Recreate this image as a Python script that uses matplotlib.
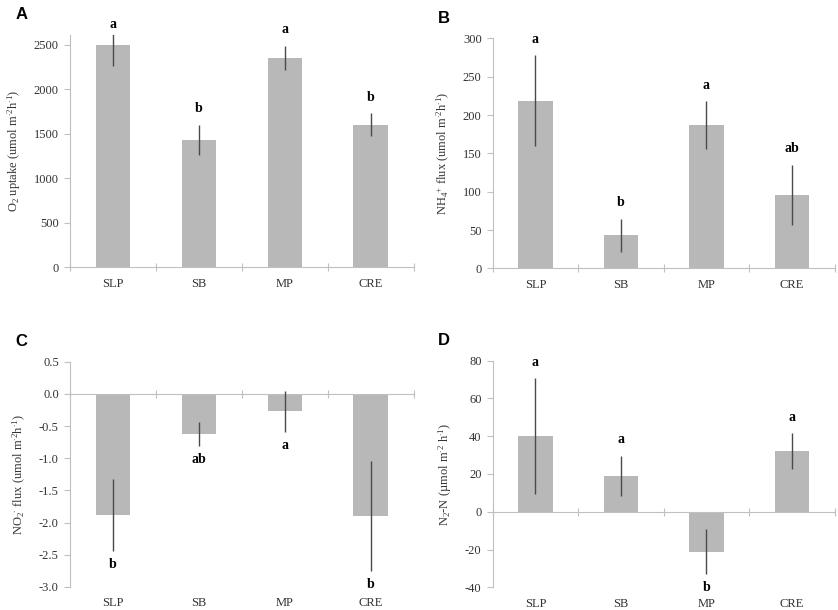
import matplotlib
matplotlib.use("Agg")
import matplotlib.pyplot as plt
import matplotlib.transforms as mtransforms

plt.rcParams['font.family'] = ['Liberation Serif', 'DejaVu Serif']
plt.rcParams['mathtext.fontset'] = 'custom'
plt.rcParams['mathtext.rm'] = 'Liberation Serif'
plt.rcParams['mathtext.it'] = 'Liberation Serif:italic'
plt.rcParams['mathtext.bf'] = 'Liberation Serif:bold'

sites = ["SLP", "SB", "MP", "CRE"]

# A: O2 uptake
o2_mean = [2490, 1425, 2352, 1602]
o2_err = [230, 170, 137, 124]
o2_letters = ["a", "b", "a", "b"]

# B: NH4+ flux
nh4_mean = [219, 43, 187, 96]
nh4_err = [59, 22, 31, 39]
nh4_letters = ["a", "b", "a", "ab"]

# C: NO2- flux
no2_mean = [-1.89, -0.62, -0.27, -1.90]
no2_err = [0.56, 0.19, 0.32, 0.86]
no2_letters = ["b", "ab", "a", "b"]

# D: N2-N
n2_mean = [40, 19, -21, 32]
n2_err = [30.5, 10.7, 11.8, 9.5]
n2_letters = ["a", "a", "b", "a"]

panels = [
    ("A", o2_mean, o2_err, o2_letters, (0, 2610), [0, 500, 1000, 1500, 2000, 2500], "{:.0f}",
     r"O$_2$ uptake (umol m$^{\cdot 2}$h$^{\cdot 1}$)", [0.0835, 0.562, 0.41, 0.381]),
    ("B", nh4_mean, nh4_err, nh4_letters, (0, 300), [0, 50, 100, 150, 200, 250, 300], "{:.0f}",
     r"NH$_4$$^{+}$ flux (umol m$^{\cdot 2}$h$^{\cdot 1}$)", [0.588, 0.560, 0.408, 0.377]),
    ("C", no2_mean, no2_err, no2_letters, (-3.0, 0.5), [-3.0, -2.5, -2.0, -1.5, -1.0, -0.5, 0.0, 0.5], "{:.1f}",
     r"NO$_2$$^{\cdot}$ flux (umol m$^{\cdot 2}$h$^{\cdot 1}$)", [0.0835, 0.038, 0.41, 0.369]),
    ("D", n2_mean, n2_err, n2_letters, (-40, 80), [-40, -20, 0, 20, 40, 60, 80], "{:.0f}",
     r"N$_2$-N (µmol m$^{\cdot 2}$ h$^{\cdot 1}$)", [0.588, 0.037, 0.408, 0.372]),
]

fig = plt.figure(figsize=(8.38, 6.10), dpi=100)
axis_grey = "#c0c0c0"

for tag, mean, err, letters, ylim, yticks, fmt, ylabel, rect in panels:
    ax = fig.add_axes(rect)
    x = list(range(len(sites)))
    ax.bar(x, mean, width=0.4, color="#b8b8b8", zorder=2)
    ax.errorbar(x, mean, yerr=err, fmt="none", ecolor="#4a4a4a", elinewidth=1.0,
                capsize=0, zorder=3)
    ax.set_xlim(-0.5, len(sites) - 0.5)
    ax.set_ylim(*ylim)
    ax.set_yticks(yticks)
    ax.set_yticklabels([fmt.format(v) for v in yticks], fontsize=9, color="#333333")

    # category boundaries as ticks on the zero line
    ax.set_xticks([i + 0.5 for i in range(-1, len(sites))])
    ax.set_xticklabels([])
    ax.tick_params(axis="x", direction="inout", length=6, color=axis_grey, width=0.8)
    ax.tick_params(axis="y", direction="out", length=4, color=axis_grey, width=0.8, pad=4)

    for s in ["top", "right"]:
        ax.spines[s].set_visible(False)
    ax.spines["left"].set_color(axis_grey)
    ax.spines["bottom"].set_color(axis_grey)
    ax.spines["bottom"].set_position(("data", 0))

    trans = mtransforms.blended_transform_factory(ax.transData, ax.transAxes)
    for i, name in enumerate(sites):
        ax.text(i, -0.045, name, transform=trans, ha="center", va="top",
                fontsize=9, color="#333333")

    # significance letters
    for i, (m, e, lab) in enumerate(zip(mean, err, letters)):
        if m >= 0:
            top = min(m + e, ylim[1])
            off = 3 if m + e > ylim[1] else 7
            ax.annotate(lab, (i, top), xytext=(0, off), textcoords="offset points",
                        ha="center", va="bottom", fontsize=10, fontweight="bold",
                        annotation_clip=False)
        else:
            ax.annotate(lab, (i, m - e), xytext=(0, -5), textcoords="offset points",
                        ha="center", va="top", fontsize=10, fontweight="bold",
                        annotation_clip=False)

    ax.set_ylabel(ylabel, fontsize=9, color="#333333", labelpad=8)

    fig.text(rect[0] - 0.065, rect[1] + rect[3] + 0.033, tag, fontsize=12,
             fontweight="bold", family="Liberation Sans", ha="left", va="center")

fig.savefig("out.png", dpi=100)
